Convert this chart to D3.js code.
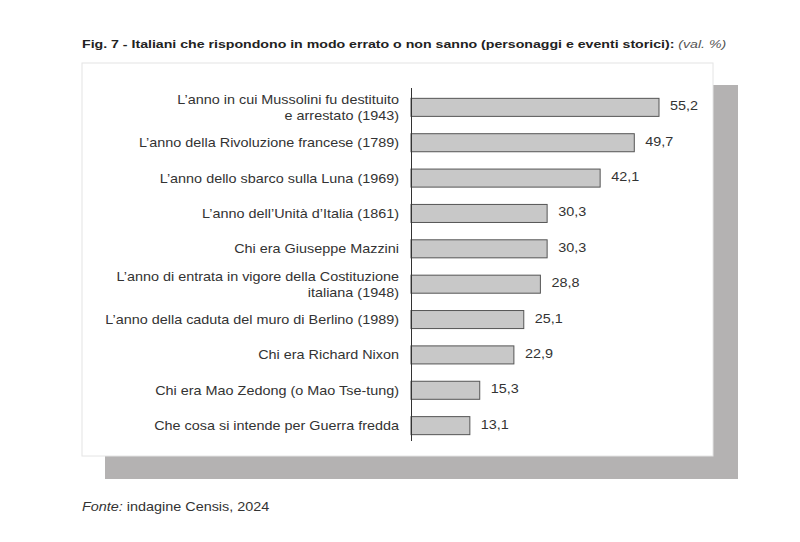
<!DOCTYPE html>
<html><head><meta charset="utf-8">
<script src="https://cdn.jsdelivr.net/npm/d3@7/dist/d3.min.js"></script>
<style>body{margin:0;background:#fff}</style>
</head><body><svg id="c" width="800" height="542"></svg>
<script>
const categories = [
  ["L’anno in cui Mussolini fu destituito","e arrestato (1943)"],
  ["L’anno della Rivoluzione francese (1789)"],
  ["L’anno dello sbarco sulla Luna (1969)"],
  ["L’anno dell’Unità d’Italia (1861)"],
  ["Chi era Giuseppe Mazzini"],
  ["L’anno di entrata in vigore della Costituzione","italiana (1948)"],
  ["L’anno della caduta del muro di Berlino (1989)"],
  ["Chi era Richard Nixon"],
  ["Chi era Mao Zedong (o Mao Tse-tung)"],
  ["Che cosa si intende per Guerra fredda"]
];
const values = [55.2, 49.7, 42.1, 30.3, 30.3, 28.8, 25.1, 22.9, 15.3, 13.1];
const valueLabels = ["55,2","49,7","42,1","30,3","30,3","28,8","25,1","22,9","15,3","13,1"];

const svg = d3.select("#c");
const font = "'Liberation Sans', Arial, sans-serif";
const SX = 1.2;

// shadow and panel
svg.append("rect").attr("x",105).attr("y",85).attr("width",633).attr("height",394).attr("fill","#b4b2b2");
svg.append("rect").attr("x",82).attr("y",63).attr("width",631).attr("height",393).attr("fill","#fff").attr("stroke","#e4e4e4");

function stext(x, y){
  return svg.append("g").attr("transform",`translate(${x},${y}) scale(${SX},1)`).append("text")
    .attr("font-family",font);
}

// title
const t = stext(82,48).attr("font-size",11.8).attr("fill","#222");
t.append("tspan").attr("font-weight","bold").text("Fig. 7 - Italiani che rispondono in modo errato o non sanno (personaggi e eventi storici): ");
t.append("tspan").attr("font-style","italic").attr("fill","#555").text("(val. %)");

// source
const s = stext(82,511).attr("font-size",12).attr("fill","#333");
s.append("tspan").attr("font-style","italic").text("Fonte:");
s.append("tspan").text(" indagine Censis, 2024");

const x = d3.scaleLinear().domain([0, 55.2]).range([411, 659]);
const y = d3.scaleBand().domain(d3.range(values.length)).range([89.5, 443.5]).paddingInner(0.49).paddingOuter(0.25);

const g = svg.append("g");
g.selectAll("rect.bar").data(values).join("rect").attr("class","bar")
  .attr("x", x(0)).attr("y",(d,i)=>y(i)).attr("width",d=>x(d)-x(0)).attr("height",y.bandwidth())
  .attr("fill","#c8c8c8").attr("stroke","#555").attr("stroke-width",1);

values.forEach((d,i)=>{
  stext(x(d)+11, y(i)+y.bandwidth()/2+3).attr("font-size",12).attr("fill","#333").text(valueLabels[i]);
});

categories.forEach((lines,i)=>{
  const cy = y(i)+y.bandwidth()/2;
  const n = lines.length;
  lines.forEach((l,j)=>{
    stext(399, cy + (j-(n-1)/2)*16 + 4.5).attr("text-anchor","end").attr("font-size",12).attr("fill","#333").text(l);
  });
});

// axis
svg.append("line").attr("x1",411.5).attr("x2",411.5).attr("y1",88).attr("y2",441).attr("stroke","#333").attr("stroke-width",1);
</script></body></html>
